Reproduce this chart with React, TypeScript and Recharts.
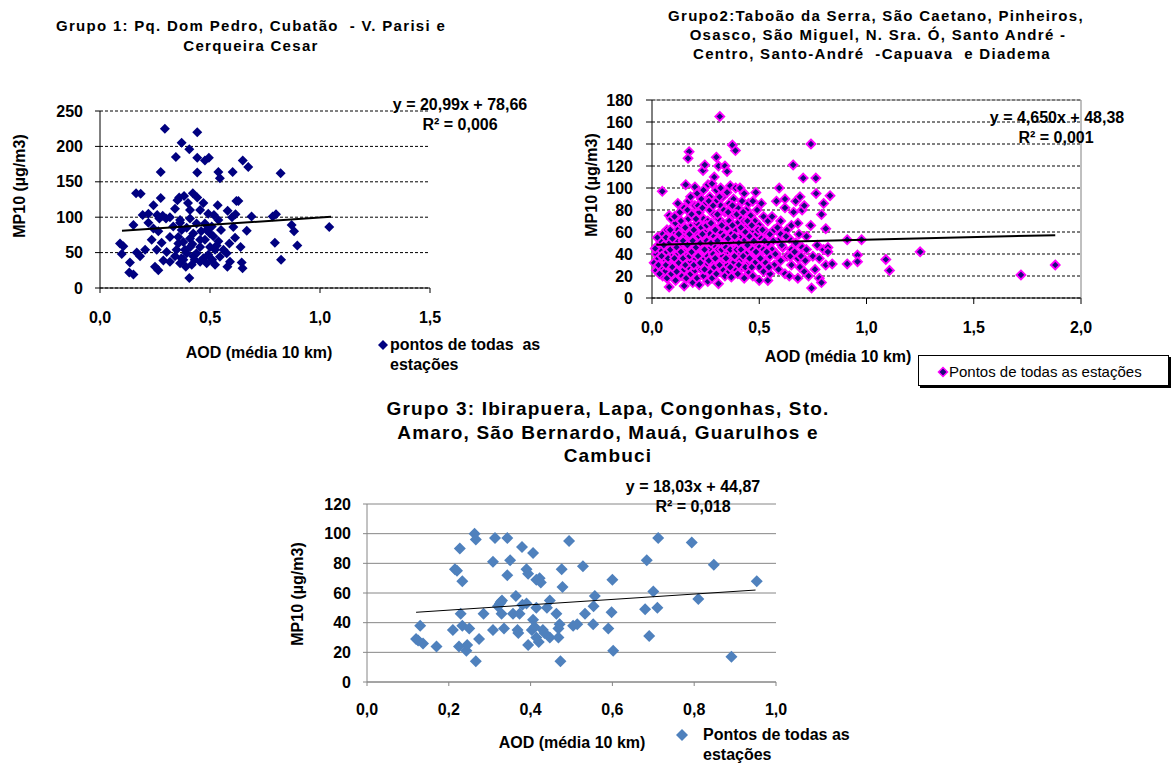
import React from 'react'
import { ScatterChart, Scatter, XAxis, YAxis, CartesianGrid, Legend, ReferenceLine } from 'recharts'

const FONT = '"Liberation Sans", Arial, sans-serif'

// Grupo 1: AOD x MP10
const grupo1Pontos: [number, number][] = [
  [0.295, 225], [0.442, 220], [0.371, 205], [0.345, 185], [0.406, 196], [0.442, 184], [0.477, 180], [0.495, 184],
  [0.649, 180], [0.674, 171], [0.276, 164], [0.442, 163], [0.538, 164], [0.545, 155], [0.603, 164], [0.821, 162],
  [0.164, 134], [0.185, 133], [0.243, 117], [0.276, 127], [0.352, 124], [0.382, 130], [0.422, 134], [0.442, 128],
  [0.47, 120], [0.629, 123], [0.535, 117], [0.194, 103], [0.285, 102], [0.318, 100], [0.518, 103], [0.58, 109],
  [0.616, 104], [0.689, 101], [0.785, 101], [0.8, 104], [0.152, 89], [0.22, 92], [0.364, 96], [0.409, 98],
  [0.477, 91], [0.538, 96], [0.606, 86], [0.667, 81], [0.871, 89], [0.882, 80], [1.042, 86], [0.091, 63],
  [0.106, 59], [0.099, 48], [0.167, 50], [0.182, 45], [0.205, 54], [0.235, 68], [0.265, 80], [0.258, 54],
  [0.28, 64], [0.303, 51], [0.318, 72], [0.356, 63], [0.371, 82], [0.386, 54], [0.409, 70], [0.424, 45],
  [0.455, 58], [0.477, 68], [0.5, 77], [0.523, 54], [0.538, 66], [0.561, 54], [0.588, 63], [0.614, 71],
  [0.639, 58], [0.795, 64], [0.897, 60], [0.136, 36], [0.133, 22], [0.152, 19], [0.25, 30], [0.265, 25],
  [0.364, 35], [0.417, 33], [0.455, 37], [0.485, 35], [0.523, 33], [0.579, 30], [0.644, 36], [0.648, 28],
  [0.823, 40], [0.406, 14], [0.288, 39], [0.341, 45], [0.318, 37], [0.379, 40], [0.394, 49], [0.439, 49],
  [0.492, 47], [0.545, 44], [0.576, 49], [0.591, 37], [0.341, 112], [0.409, 110], [0.455, 110], [0.364, 92],
  [0.394, 85], [0.424, 77], [0.439, 91], [0.492, 105], [0.508, 87], [0.333, 87], [0.356, 72], [0.379, 65],
  [0.485, 82], [0.515, 73], [0.455, 68], [0.55, 82], [0.41, 58], [0.348, 54], [0.22, 105], [0.243, 84],
  [0.37, 42], [0.39, 30], [0.43, 40], [0.47, 42], [0.51, 40], [0.53, 60], [0.5, 58], [0.46, 80],
  [0.4, 120], [0.36, 128], [0.6, 100], [0.62, 123], [0.27, 98], [0.3, 98], [0.26, 103], [0.42, 62]
]
const grupo1Tendencia: [number, number][] = [[0.1, 80.8], [1.05, 100.7]]
const grupo1XTicks = [0, 0.5, 1, 1.5]
const grupo1YTicks = [0, 50, 100, 150, 200, 250]

// Grupo 2
const grupo2Pontos: [number, number][] = [
  [0.01, 32], [0.02, 40], [0.02, 25], [0.03, 48], [0.03, 36], [0.04, 28], [0.04, 44], [0.05, 20], [0.05, 58], [0.048, 97], [0.03, 30], [0.04, 52],
  [0.06, 35], [0.06, 24], [0.07, 42], [0.07, 62], [0.07, 18], [0.08, 10], [0.08, 75], [0.08, 30], [0.08, 50], [0.09, 72], [0.09, 22], [0.09, 38],
  [0.1, 45], [0.1, 28], [0.1, 58], [0.11, 68], [0.11, 33], [0.11, 16], [0.12, 52], [0.12, 40], [0.12, 62], [0.12, 25], [0.12, 86],
  [0.13, 47], [0.13, 35], [0.13, 78], [0.14, 20], [0.14, 56], [0.14, 66], [0.14, 30], [0.15, 11], [0.15, 42], [0.15, 82], [0.15, 50], [0.15, 26],
  [0.157, 103], [0.16, 60], [0.16, 38], [0.16, 18], [0.17, 72], [0.17, 46], [0.173, 133], [0.168, 127], [0.17, 28], [0.17, 88], [0.18, 55], [0.18, 33], [0.18, 65], [0.18, 22], [0.18, 92],
  [0.19, 44], [0.19, 76], [0.19, 14], [0.19, 52], [0.2, 101], [0.2, 36], [0.2, 60], [0.2, 25], [0.2, 84], [0.21, 48], [0.21, 68], [0.21, 30], [0.21, 95], [0.21, 18],
  [0.22, 56], [0.22, 40], [0.22, 78], [0.22, 12], [0.23, 90], [0.23, 45], [0.23, 26], [0.23, 64], [0.238, 116], [0.24, 35], [0.24, 52], [0.24, 72], [0.24, 20], [0.24, 98],
  [0.246, 121], [0.25, 42], [0.25, 60], [0.25, 30], [0.25, 86], [0.26, 15], [0.26, 50], [0.261, 103], [0.26, 38], [0.26, 70], [0.27, 24], [0.27, 58], [0.27, 80], [0.27, 45], [0.27, 92],
  [0.28, 34], [0.28, 66], [0.28, 104], [0.28, 18], [0.29, 48], [0.29, 76], [0.29, 28], [0.29, 56], [0.29, 110], [0.3, 40], [0.3, 128], [0.3, 62], [0.3, 88], [0.3, 22], [0.3, 98],
  [0.31, 120], [0.31, 44], [0.31, 72], [0.31, 13], [0.31, 54], [0.316, 165], [0.32, 32], [0.32, 84], [0.32, 100], [0.32, 60], [0.33, 26], [0.33, 48], [0.33, 68], [0.33, 92], [0.33, 38],
  [0.34, 120], [0.34, 56], [0.34, 20], [0.34, 78], [0.35, 115], [0.35, 42], [0.35, 64], [0.35, 30], [0.35, 96], [0.36, 50], [0.36, 86], [0.36, 24], [0.36, 70], [0.36, 36],
  [0.365, 102], [0.37, 58], [0.37, 19], [0.375, 139], [0.38, 44], [0.38, 76], [0.38, 32], [0.38, 90], [0.389, 134], [0.39, 62], [0.39, 26], [0.39, 52], [0.39, 100],
  [0.4, 40], [0.4, 82], [0.4, 68], [0.4, 22], [0.41, 100], [0.41, 55], [0.41, 34], [0.41, 74], [0.42, 46], [0.42, 62], [0.42, 28], [0.42, 88],
  [0.43, 95], [0.43, 52], [0.43, 18], [0.43, 70], [0.44, 40], [0.44, 80], [0.44, 30], [0.44, 58], [0.45, 66], [0.45, 24], [0.45, 48], [0.45, 86],
  [0.46, 36], [0.46, 75], [0.46, 55], [0.47, 44], [0.47, 62], [0.47, 20], [0.47, 88], [0.484, 96], [0.48, 50], [0.48, 32], [0.48, 70],
  [0.49, 80], [0.49, 40], [0.49, 58], [0.5, 16], [0.5, 66], [0.5, 28], [0.5, 46], [0.51, 86], [0.51, 36], [0.51, 54],
  [0.52, 74], [0.52, 24], [0.52, 44], [0.53, 60], [0.53, 32], [0.54, 16], [0.54, 50], [0.54, 70], [0.55, 38], [0.55, 22], [0.55, 58],
  [0.56, 74], [0.56, 44], [0.57, 30], [0.57, 62], [0.58, 88], [0.58, 40], [0.593, 100], [0.59, 52], [0.59, 26], [0.6, 70], [0.6, 34], [0.6, 58],
  [0.61, 46], [0.62, 90], [0.62, 82], [0.62, 22], [0.63, 62], [0.63, 38], [0.64, 54], [0.64, 20], [0.65, 44], [0.65, 30], [0.65, 66],
  [0.658, 121], [0.66, 78], [0.67, 88], [0.67, 50], [0.68, 18], [0.68, 36], [0.68, 68], [0.69, 92], [0.69, 28], [0.7, 46], [0.7, 80], [0.705, 109],
  [0.71, 24], [0.71, 84], [0.72, 56], [0.72, 44], [0.73, 20], [0.741, 140], [0.744, 9], [0.74, 66], [0.75, 38], [0.764, 109], [0.76, 26], [0.765, 95],
  [0.77, 48], [0.78, 18], [0.78, 36], [0.79, 14], [0.79, 76], [0.8, 86], [0.8, 44], [0.81, 63], [0.81, 30], [0.82, 46], [0.83, 93], [0.84, 31], [0.82, 42],
  [0.91, 53], [0.91, 31], [0.958, 39], [0.958, 33], [0.977, 53], [1.09, 35], [1.107, 25], [1.25, 42], [1.72, 21], [1.88, 30],
  [0.015, 45], [0.025, 55], [0.035, 22], [0.045, 38], [0.055, 48], [0.065, 30], [0.065, 55], [0.075, 36], [0.085, 62], [0.085, 44],
  [0.095, 28], [0.095, 54], [0.105, 36], [0.105, 74], [0.115, 46], [0.115, 24], [0.125, 58], [0.125, 32], [0.135, 70], [0.135, 42],
  [0.145, 52], [0.145, 36], [0.155, 64], [0.155, 30], [0.165, 48], [0.165, 80], [0.175, 38], [0.175, 58], [0.185, 42], [0.185, 76],
  [0.195, 30], [0.195, 62], [0.205, 46], [0.205, 72], [0.215, 38], [0.215, 84], [0.225, 50], [0.225, 32], [0.235, 58], [0.235, 82],
  [0.245, 44], [0.245, 26], [0.255, 66], [0.255, 52], [0.265, 34], [0.265, 88], [0.275, 50], [0.275, 68], [0.285, 40], [0.285, 84],
  [0.295, 62], [0.295, 36], [0.305, 52], [0.305, 76], [0.315, 30], [0.315, 92], [0.325, 44], [0.325, 66], [0.335, 56], [0.335, 80],
  [0.345, 36], [0.345, 46], [0.355, 54], [0.355, 78], [0.365, 44], [0.365, 28], [0.375, 66], [0.375, 84], [0.385, 38], [0.385, 56],
  [0.395, 44], [0.395, 76], [0.405, 50], [0.405, 30], [0.415, 64], [0.415, 44], [0.425, 38], [0.425, 78], [0.435, 60], [0.435, 28],
  [0.445, 48], [0.445, 70], [0.455, 56], [0.455, 36], [0.465, 66], [0.465, 28], [0.475, 52], [0.485, 42], [0.495, 62], [0.505, 36],
  [0.515, 62], [0.525, 52], [0.535, 42], [0.545, 28], [0.565, 52], [0.575, 40], [0.585, 64], [0.605, 48], [0.625, 56], [0.645, 38],
  [0.665, 42], [0.685, 58], [0.695, 38], [0.715, 34]
]
const grupo2Tendencia: [number, number][] = [[0.02, 48.5], [1.88, 57.1]]
const grupo2XTicks = [0, 0.5, 1, 1.5, 2]
const grupo2YTicks = [0, 20, 40, 60, 80, 100, 120, 140, 160, 180]

// Grupo 3
const grupo3Pontos: [number, number][] = [
  [0.12, 29], [0.13, 38], [0.137, 26], [0.125, 28], [0.17, 24], [0.21, 35], [0.215, 76], [0.22, 75], [0.227, 90],
  [0.233, 68], [0.229, 46], [0.233, 38], [0.225, 24], [0.243, 21], [0.245, 25], [0.25, 36], [0.266, 14], [0.263, 100],
  [0.266, 96], [0.274, 29], [0.285, 46], [0.308, 81], [0.308, 35], [0.313, 97], [0.32, 51], [0.325, 53], [0.327, 54],
  [0.335, 36], [0.343, 97], [0.35, 82], [0.343, 72], [0.329, 46], [0.33, 55], [0.357, 46], [0.364, 58], [0.37, 33],
  [0.368, 35], [0.379, 91], [0.39, 76], [0.394, 73], [0.39, 53], [0.38, 52], [0.373, 46], [0.394, 25], [0.406, 87],
  [0.406, 42], [0.403, 35], [0.414, 50], [0.422, 70], [0.414, 69], [0.425, 67], [0.414, 30], [0.41, 37], [0.43, 35],
  [0.42, 27], [0.44, 50], [0.447, 55], [0.434, 33], [0.447, 30], [0.463, 46], [0.468, 36], [0.471, 39], [0.468, 30],
  [0.476, 76], [0.478, 64], [0.473, 14], [0.494, 95], [0.504, 38], [0.514, 39], [0.528, 78], [0.533, 46], [0.553, 39],
  [0.557, 58], [0.554, 51], [0.59, 36], [0.598, 47], [0.6, 69], [0.602, 21], [0.68, 49], [0.684, 82], [0.69, 31],
  [0.7, 61], [0.71, 50], [0.712, 97], [0.794, 94], [0.81, 56], [0.848, 79], [0.891, 17], [0.953, 68]
]
const grupo3Tendencia: [number, number][] = [[0.12, 47.0], [0.95, 62.0]]
const grupo3XTicks = [0, 0.2, 0.4, 0.6, 0.8, 1]
const grupo3YTicks = [0, 20, 40, 60, 80, 100, 120]

const toXY = (arr: [number, number][]) => arr.map(([x, y]) => ({ x, y }))
const fmt = (v: number) => v.toFixed(1).replace('.', ',')

function diamond(r: number, fill: string, stroke?: string, strokeWidth = 0) {
  return (props: any) => {
    const { cx, cy } = props
    if (cx == null || cy == null) return <g />
    return (
      <path
        d={`M${cx},${cy - r}L${cx + r},${cy}L${cx},${cy + r}L${cx - r},${cy}Z`}
        fill={fill}
        stroke={stroke || 'none'}
        strokeWidth={strokeWidth}
      />
    )
  }
}

const noDot = () => <g />

function Txt({ x, y, children, size = 16, bold = true, rotate = false, spacing = 0 }: any) {
  return (
    <div
      style={{
        position: 'absolute',
        left: x,
        top: y,
        transform: `translate(-50%, -50%)${rotate ? ' rotate(-90deg)' : ''}`,
        whiteSpace: 'pre',
        fontFamily: FONT,
        fontSize: size,
        fontWeight: bold ? 'bold' : 'normal',
        letterSpacing: spacing,
        color: '#000',
        lineHeight: 1
      }}
    >
      {children}
    </div>
  )
}

const tickStyle = { fill: '#000', fontSize: 16, fontWeight: 'bold', fontFamily: FONT }

export default function App() {
  return (
    <div style={{ position: 'absolute', left: 0, top: 0, width: 1172, height: 763, background: '#fff', overflow: 'hidden' }}>
      {/* Grupo 1 */}
      <Txt x={251} y={25} size={15} spacing={1.3}>Grupo 1: Pq. Dom Pedro, Cubatão  - V. Parisi e</Txt>
      <Txt x={251} y={45} size={15} spacing={1.3}>Cerqueira Cesar</Txt>
      <div style={{ position: 'absolute', left: 0, top: 100 }}>
        <ScatterChart width={560} height={280} margin={{ top: 11, right: 130, bottom: 0, left: 0 }}>
          <CartesianGrid vertical={false} stroke="#000" strokeDasharray="3 2" />
          <XAxis type="number" dataKey="x" domain={[0, 1.5]} ticks={grupo1XTicks} interval={0} height={92}
            tickFormatter={fmt} tick={tickStyle} tickSize={5} tickMargin={19}
            axisLine={{ stroke: '#000' }} tickLine={{ stroke: '#000' }} />
          <YAxis type="number" dataKey="y" domain={[0, 250]} ticks={grupo1YTicks} interval={0} width={100}
            tick={tickStyle} tickSize={5} tickMargin={12}
            axisLine={{ stroke: '#000' }} tickLine={{ stroke: '#000' }} />
          <Scatter data={toXY(grupo1Pontos)} shape={diamond(5, '#000080')} isAnimationActive={false} />
          <Scatter data={toXY(grupo1Tendencia)} shape={noDot} line={{ stroke: '#000', strokeWidth: 2 }} isAnimationActive={false} legendType="none" />
          <Legend layout="horizontal" verticalAlign="middle" align="center"
            wrapperStyle={{ left: 377, top: 235, width: 180, height: 42 }}
            content={() => (
              <div style={{ position: 'relative', fontFamily: FONT, fontSize: 16, fontWeight: 'bold', lineHeight: '20px', color: '#000' }}>
                <svg width={12} height={12} style={{ position: 'absolute', left: 0, top: 4 }}>
                  <path d="M6,1L11,6L6,11L1,6Z" fill="#000080" />
                </svg>
                <div style={{ marginLeft: 13, whiteSpace: 'pre' }}>{'pontos de todas  as\nestações'}</div>
              </div>
            )} />
        </ScatterChart>
      </div>
      <Txt x={259} y={353}>AOD (média 10 km)</Txt>
      <Txt x={20} y={186} rotate>MP10 (µg/m3)</Txt>
      <Txt x={460} y={105}>y = 20,99x + 78,66</Txt>
      <Txt x={460} y={125}>R² = 0,006</Txt>

      {/* Grupo 2 */}
      <Txt x={876} y={15} size={15} spacing={1.3}>Grupo2:Taboão da Serra, São Caetano, Pinheiros,</Txt>
      <Txt x={878} y={34} size={15} spacing={1.3}>Osasco, São Miguel, N. Sra. Ó, Santo André -</Txt>
      <Txt x={872} y={53} size={15} spacing={1.3}>Centro, Santo-André  -Capuava  e Diadema</Txt>
      <div style={{ position: 'absolute', left: 560, top: 90 }}>
        <ScatterChart width={612} height={300} margin={{ top: 10, right: 91, bottom: 0, left: 0 }}>
          <CartesianGrid vertical={false} stroke="#000" strokeDasharray="3 2" />
          <ReferenceLine y={180} stroke="#808080" />
          <ReferenceLine x={2} stroke="#808080" />
          <XAxis type="number" dataKey="x" domain={[0, 2]} ticks={grupo2XTicks} interval={0} height={92}
            tickFormatter={fmt} tick={tickStyle} tickSize={6} tickMargin={18}
            axisLine={{ stroke: '#000' }} tickLine={{ stroke: '#000' }} />
          <YAxis type="number" dataKey="y" domain={[0, 180]} ticks={grupo2YTicks} interval={0} width={92}
            tick={tickStyle} tickSize={6} tickMargin={13}
            axisLine={{ stroke: '#000' }} tickLine={{ stroke: '#000' }} />
          <Scatter data={toXY(grupo2Pontos)} shape={diamond(4.5, '#1a0a7a', '#ff00ff', 1.8)} isAnimationActive={false} />
          <Scatter data={toXY(grupo2Tendencia)} shape={noDot} line={{ stroke: '#000', strokeWidth: 2 }} isAnimationActive={false} legendType="none" />
          <Legend layout="horizontal" verticalAlign="middle" align="center"
            wrapperStyle={{ left: 358, top: 265, width: 251, height: 31 }}
            content={() => (
              <div style={{ position: 'relative', width: 249, height: 29, border: '1px solid #000', boxShadow: '2px 2px 0 #000', background: '#fff', fontFamily: FONT, fontSize: 15, color: '#000' }}>
                <svg width={12} height={12} style={{ position: 'absolute', left: 18, top: 10 }}>
                  <path d="M6,1.5L10.5,6L6,10.5L1.5,6Z" fill="#1a0a7a" stroke="#ff00ff" strokeWidth={1.5} />
                </svg>
                <div style={{ position: 'absolute', left: 30, top: 7, whiteSpace: 'pre', lineHeight: '18px' }}>Pontos de todas as estações</div>
              </div>
            )} />
        </ScatterChart>
      </div>
      <Txt x={838} y={357}>AOD (média 10 km)</Txt>
      <Txt x={592} y={185} rotate>MP10 (µg/m3)</Txt>
      <Txt x={1057} y={118}>y = 4,650x + 48,38</Txt>
      <Txt x={1056} y={138}>R² = 0,001</Txt>

      {/* Grupo 3 */}
      <Txt x={608} y={408} size={19} spacing={1.2}>Grupo 3: Ibirapuera, Lapa, Congonhas, Sto.</Txt>
      <Txt x={608} y={432} size={19} spacing={1.2}>Amaro, São Bernardo, Mauá, Guarulhos e</Txt>
      <Txt x={608} y={455} size={19} spacing={1.2}>Cambuci</Txt>
      <div style={{ position: 'absolute', left: 280, top: 470 }}>
        <ScatterChart width={620} height={293} margin={{ top: 34, right: 124, bottom: 0, left: 0 }}>
          <CartesianGrid vertical={false} stroke="#868686" />
          <XAxis type="number" dataKey="x" domain={[0, 1]} ticks={grupo3XTicks} interval={0} height={81}
            tickFormatter={fmt} tick={tickStyle} tickSize={4} tickMargin={18}
            axisLine={{ stroke: '#868686' }} tickLine={{ stroke: '#868686' }} />
          <YAxis type="number" dataKey="y" domain={[0, 120]} ticks={grupo3YTicks} interval={0} width={87}
            tick={tickStyle} tickSize={4} tickMargin={12}
            axisLine={{ stroke: '#868686' }} tickLine={{ stroke: '#868686' }} />
          <Scatter data={toXY(grupo3Pontos)} shape={diamond(6, '#4f81bd')} isAnimationActive={false} />
          <Scatter data={toXY(grupo3Tendencia)} shape={noDot} line={{ stroke: '#000', strokeWidth: 1 }} isAnimationActive={false} legendType="none" />
          <Legend layout="horizontal" verticalAlign="middle" align="center"
            wrapperStyle={{ left: 395, top: 255, width: 220, height: 38 }}
            content={() => (
              <div style={{ position: 'relative', fontFamily: FONT, fontSize: 16, fontWeight: 'bold', lineHeight: '20px', color: '#000' }}>
                <svg width={14} height={14} style={{ position: 'absolute', left: 0, top: 3 }}>
                  <path d="M7,1L13,7L7,13L1,7Z" fill="#4f81bd" />
                </svg>
                <div style={{ marginLeft: 28, whiteSpace: 'pre' }}>{'Pontos de todas as\nestações'}</div>
              </div>
            )} />
        </ScatterChart>
      </div>
      <Txt x={572} y={743}>AOD (média 10 km)</Txt>
      <Txt x={298} y={594} rotate>MP10 (µg/m3)</Txt>
      <Txt x={693} y={487}>y = 18,03x + 44,87</Txt>
      <Txt x={693} y={507}>R² = 0,018</Txt>
    </div>
  )
}
